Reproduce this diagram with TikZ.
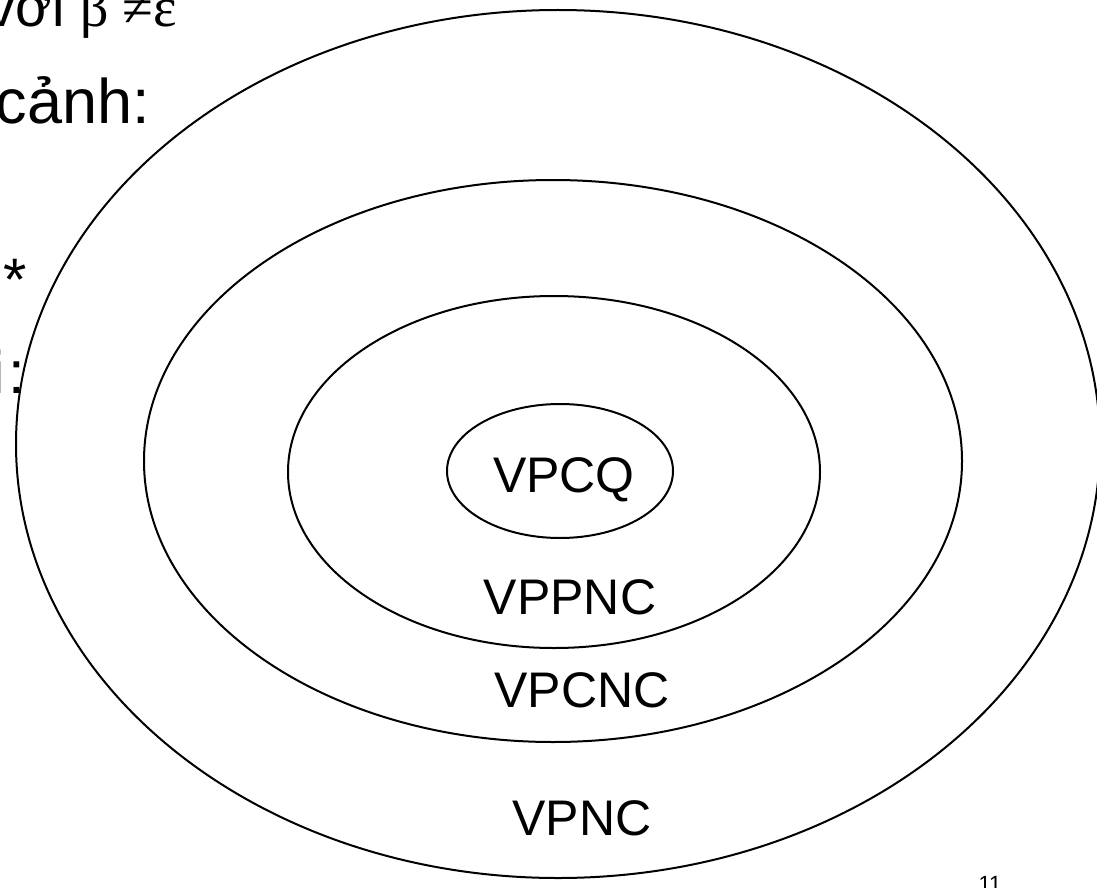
\documentclass[tikz,border=0pt]{standalone}
\usepackage{fontspec}
\setmainfont{Liberation Sans}
\newfontfamily\greekserif{Liberation Serif}
\begin{document}
\begin{tikzpicture}[x=1pt,y=-1pt,
  ring/.style={draw=black,line width=2pt},
  txt/.style={inner sep=0pt,outer sep=0pt,text=black},
  bigtxt/.style={txt,font=\fontsize{60}{72}\selectfont},
  setlabel/.style={txt,font=\fontsize{50}{60}\selectfont,anchor=base},
]
\useasboundingbox (0,0) rectangle (1097,888);
\clip (0,0) rectangle (1097,888);
\fill[white] (0,0) rectangle (1097,888);

% nested language classes
\coordinate (cOuter) at (558,444);
\coordinate (cSecond) at (553,461);
\coordinate (cThird) at (554,472);
\coordinate (cInner) at (560,471);
\draw[ring] (cOuter) ellipse [x radius=542, y radius=434];
\draw[ring] (cSecond) ellipse [x radius=409, y radius=281];
\draw[ring] (cThird) ellipse [x radius=266, y radius=176];
\draw[ring] (cInner) ellipse [x radius=113, y radius=67];

% class names
\node[setlabel] (vpcq)  at (564,492) {VPCQ};
\node[setlabel] (vppnc) at (570,614) {VPPNC};
\node[setlabel] (vpcnc) at (582,707) {VPCNC};
\node[setlabel] (vpnc)  at (582,835) {VPNC};

% slide text running in from the left edge
\node[txt,anchor=base east,font=\fontsize{56}{67}\selectfont] (cond) at (177,27)
  {với {\greekserif β ≠ε}};
\node[txt,anchor=base east,font=\fontsize{63}{75}\selectfont] (canh) at (150,124) {cảnh:};
\node[bigtxt,anchor=base west] (star) at (3,300) {*};
\node[bigtxt,anchor=base west] (icolon) at (-9,393) {i\kern4pt:};

% page number
\node[txt,anchor=base,font=\fontsize{22}{26}\selectfont] (pageno) at (990,891) {11};
\end{tikzpicture}
\end{document}
